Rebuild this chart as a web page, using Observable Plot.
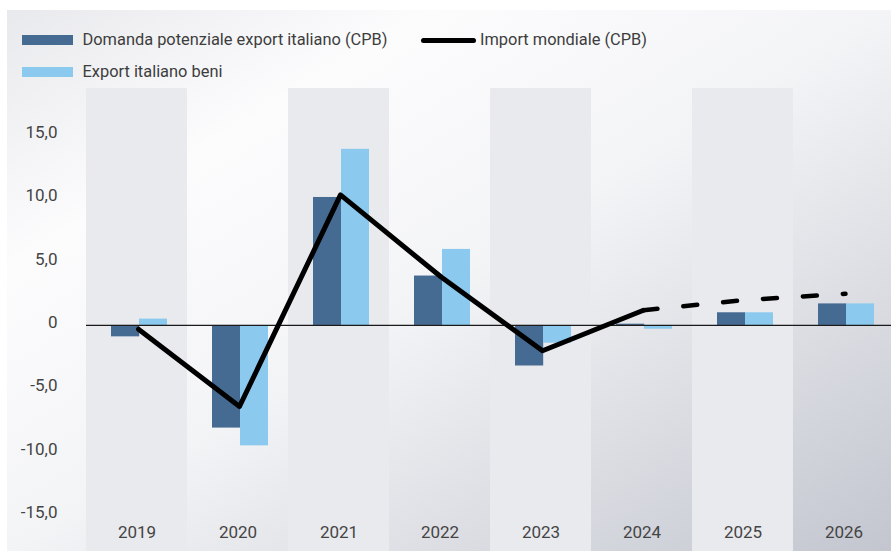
<!DOCTYPE html>
<html><head><meta charset="utf-8">
<script src="https://cdn.jsdelivr.net/npm/d3@7"></script>
<script src="https://cdn.jsdelivr.net/npm/@observablehq/plot@0.6"></script>
<style>
html,body{margin:0;padding:0;background:#fff;}
#wrap{position:relative;width:891px;height:555px;overflow:hidden;font-family:Roboto,"Noto Sans",sans-serif;color:#3d3d3d;}
#panel{position:absolute;left:7px;top:10px;width:884px;height:541px;
  background:linear-gradient(to bottom right,#e8e9ec 0%,#fcfcfd 24%,#f3f4f6 50%,#c3c6cf 100%);}
#chart{position:absolute;left:0;top:0;}
.lg{position:absolute;white-space:nowrap;font-size:16.4px;line-height:20px;height:20px;}
.sw{position:absolute;}
</style></head>
<body><div id="wrap"><div id="panel"></div><div id="chart"></div><div id="legend"></div></div>
<script>
const years = ["2019","2020","2021","2022","2023","2024","2025","2026"];
const domandaPotenziale = [-0.9, -8.1, 10.1, 3.9, -3.2, 0.1, 1.0, 1.7];
const exportBeni = [0.5, -9.5, 13.9, 6.0, -1.4, -0.3, 1.0, 1.7];
const importMondiale = [-0.3, -6.4, 10.3, 3.8, -2.0, 1.2, 2.0, 2.5];
const lastActualYear = "2024";
const yTicks = [-15, -10, -5, 0, 5, 10, 15];
const seriesNames = ["Domanda potenziale export italiano (CPB)", "Import mondiale (CPB)", "Export italiano beni"];
const colors = {dark: "#466b93", light: "#8cc9ee", line: "#000000", band: "#e9eaee"};

const yDomain = [-17.84, 18.7];
const bandYears = years.filter((d, i) => i % 2 === 0);
const rows = years.map((y, i) => ({year: y, domanda: domandaPotenziale[i], export: exportBeni[i], imp: importMondiale[i]}));
const cut = years.indexOf(lastActualYear);
const solid = rows.slice(0, cut + 1);
const dashed = rows.slice(cut);
const fmt = d => d === 0 ? "0" : d.toFixed(1).replace(".", ",");

const plot = Plot.plot({
  width: 891, height: 555,
  marginLeft: 86, marginRight: 0, marginTop: 88, marginBottom: 33,
  style: {background: "transparent", fontFamily: "Roboto, 'Noto Sans', sans-serif", fontSize: "17px", color: "#444"},
  x: {type: "band", domain: years, range: [84, 895.6], padding: 0, axis: null, label: null},
  y: {domain: yDomain, range: [551, 88], axis: null, label: null},
  marks: [
    Plot.barY(bandYears, {x: d => d, y1: yDomain[0], y2: yDomain[1], fill: colors.band}),
    Plot.barY(rows, {x: "year", y: "domanda", fill: colors.dark, insetLeft: 25, insetRight: 47.8}),
    Plot.barY(rows, {x: "year", y: "export", fill: colors.light, insetLeft: 53, insetRight: 20}),
    Plot.ruleY([0], {stroke: "#1a1a1a", strokeWidth: 1.2}),
    Plot.lineY(solid, {x: "year", y: "imp", stroke: colors.line, strokeWidth: 5, strokeLinejoin: "round", strokeLinecap: "round", dx: 1.5}),
    Plot.lineY(dashed, {x: "year", y: "imp", stroke: colors.line, strokeWidth: 4.5, strokeLinecap: "round", strokeDasharray: "14 26", dx: 1.5}),
    Plot.axisY({ticks: yTicks, tickFormat: fmt, tickSize: 0, tickPadding: 29, dy: -3, fontSize: 17, fill: "#444", anchor: "left", label: null}),
    Plot.axisX({anchor: "bottom", tickSize: 0, tickPadding: 3, fontSize: 17, fill: "#444", label: null})
  ]
});
document.getElementById("chart").appendChild(plot);

const lg = document.getElementById("legend");
function add(html){ lg.insertAdjacentHTML("beforeend", html); }
add(`<div class="sw" style="left:22px;top:35px;width:51px;height:10px;background:${colors.dark}"></div>`);
add(`<div class="lg" style="left:82.5px;top:30px">${seriesNames[0]}</div>`);
add(`<div class="sw" style="left:421px;top:37.5px;width:55px;height:5px;border-radius:3px;background:${colors.line}"></div>`);
add(`<div class="lg" style="left:480px;top:30px">${seriesNames[1]}</div>`);
add(`<div class="sw" style="left:22px;top:67px;width:51px;height:10px;background:${colors.light}"></div>`);
add(`<div class="lg" style="left:82.5px;top:61.5px">${seriesNames[2]}</div>`);
</script></body></html>
